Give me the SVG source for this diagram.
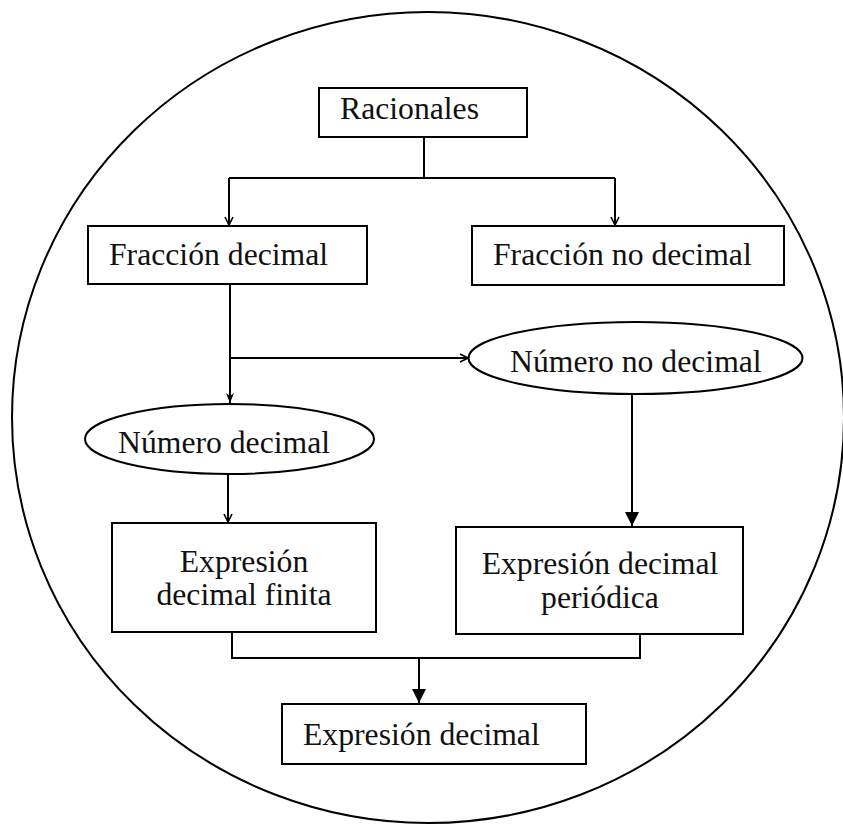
<svg xmlns="http://www.w3.org/2000/svg" width="843" height="825" viewBox="0 0 843 825">
<style>
.box{fill:#fff;stroke:#000;stroke-width:2}
.ell{fill:#fff;stroke:#000;stroke-width:2}
.ln{fill:none;stroke:#000;stroke-width:2}
.t{font-family:"Liberation Serif","Times New Roman",serif;font-size:31.7px;fill:#111}
.m{text-anchor:middle}
</style>
<defs>
<marker id="open" viewBox="0 0 10 10" refX="9" refY="5" markerWidth="10" markerHeight="10" markerUnits="userSpaceOnUse" orient="auto">
<path d="M1,1 L9,5 L1,9" fill="none" stroke="#000" stroke-width="1.6"/>
</marker>
<marker id="fill" viewBox="0 0 10 10" refX="10" refY="5" markerWidth="14" markerHeight="14" markerUnits="userSpaceOnUse" orient="auto">
<path d="M0,0 L10,5 L0,10 Z" fill="#000"/>
</marker>
<marker id="fillS" viewBox="0 0 10 10" refX="10" refY="5" markerWidth="10" markerHeight="10" markerUnits="userSpaceOnUse" orient="auto">
<path d="M0,1 L10,5 L0,9 L3,5 Z" fill="#000"/>
</marker>
</defs>
<ellipse id="outer" cx="428" cy="417.5" rx="416" ry="405.5" fill="none" stroke="#000" stroke-width="2"/>
<g id="connectors">
<path class="ln" d="M424,137 V178"/>
<path class="ln" d="M229,178 H615"/>
<path class="ln" d="M229,178 V225" marker-end="url(#open)"/>
<path class="ln" d="M615,178 V225" marker-end="url(#open)"/>
<path class="ln" d="M230,284 V403" marker-end="url(#fillS)"/>
<path class="ln" d="M231,358 H468" marker-end="url(#open)"/>
<path class="ln" d="M228,474 V522" marker-end="url(#open)"/>
<path class="ln" d="M632,394 V526" marker-end="url(#fill)"/>
<path class="ln" d="M232,632 V658 H640 V634"/>
<path class="ln" d="M419,658 V703" marker-end="url(#fill)"/>
</g>
<g id="racionales"><rect class="box" x="319" y="88" width="208" height="49"/><text class="t" x="340" y="119">Racionales</text></g>
<g id="fraccion-decimal"><rect class="box" x="88" y="226" width="279" height="58"/><text class="t" x="109" y="265">Fracción decimal</text></g>
<g id="fraccion-no-decimal"><rect class="box" x="472" y="226" width="312" height="59"/><text class="t" x="493" y="265">Fracción no decimal</text></g>
<g id="numero-no-decimal"><ellipse class="ell" cx="635.5" cy="358" rx="167" ry="36"/><text class="t" x="510" y="372">Número no decimal</text></g>
<g id="numero-decimal"><ellipse class="ell" cx="229.5" cy="439" rx="144.5" ry="35"/><text class="t" x="118" y="453">Número decimal</text></g>
<g id="expresion-finita"><rect class="box" x="112" y="523" width="264" height="109"/><text class="t m" x="244" y="572">Expresión</text><text class="t m" x="244" y="605">decimal finita</text></g>
<g id="expresion-periodica"><rect class="box" x="456" y="527" width="287" height="107"/><text class="t m" x="600" y="574">Expresión decimal</text><text class="t m" x="600" y="608">periódica</text></g>
<g id="expresion-decimal"><rect class="box" x="282" y="704" width="304" height="60"/><text class="t" x="303" y="745">Expresión decimal</text></g>
</svg>
